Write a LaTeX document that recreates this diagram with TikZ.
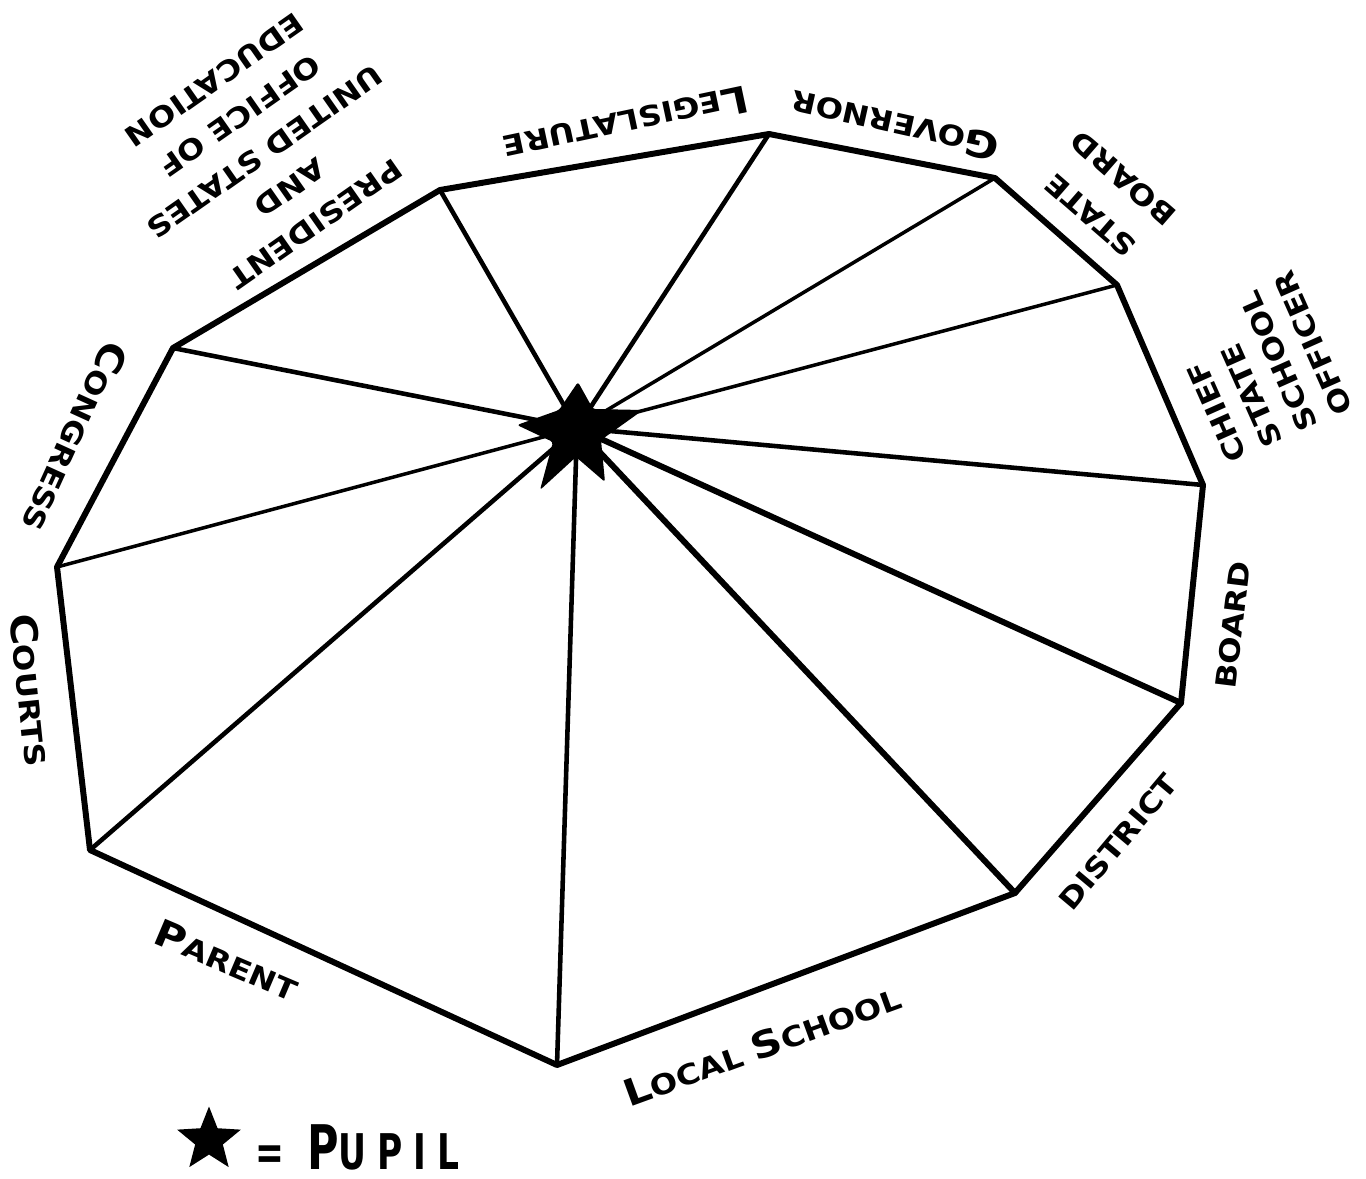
\documentclass[tikz,border=0pt]{standalone}
\usepackage{fontspec}
\setmainfont{DejaVu Sans}[FakeStretch=1.15]
\newfontfamily\legendfont{DejaVu Sans}[FakeStretch=0.7,LetterSpace=22]
\usetikzlibrary{shapes.geometric}
\newcommand\initl[1]{{\fontsize{21}{21}\selectfont #1}}
\begin{document}
\begin{tikzpicture}[x=0.02cm,y=-0.02cm,
  rim/.style={line width=3.4pt,line join=round,line cap=round},
  spoke/.style={line width=2.6pt,line cap=round},
  thinspoke/.style={line width=2pt,line cap=round},
  thickspoke/.style={line width=3.4pt,line cap=round},
  lbl/.style={font=\bfseries\fontsize{16}{16}\selectfont,inner sep=0pt},
]
\fill[white] (0,0) rectangle (1366,1179);
\useasboundingbox (0,0) rectangle (1366,1179);

% centre and polygon corners
\coordinate (c) at (577,428);
\coordinate (v1) at (440,190);
\coordinate (v2) at (769,134);
\coordinate (v3) at (995,178);
\coordinate (v4) at (1117,285);
\coordinate (v5) at (1203,485);
\coordinate (v6) at (1181,703);
\coordinate (v7) at (1015,893);
\coordinate (v8) at (557,1065);
\coordinate (v9) at (90,850);
\coordinate (v10) at (57,567);
\coordinate (v11) at (173,348);

% spokes
\draw[spoke] (c) -- (v1);
\draw[spoke] (c) -- (v2);
\draw[thinspoke] (c) -- (v3);
\draw[thinspoke] (c) -- (v4);
\draw[spoke] (c) -- (v5);
\draw[thickspoke] (c) -- (v6);
\draw[thickspoke] (c) -- (v7);
\draw[spoke] (c) -- (v8);
\draw[spoke] (c) -- (v9);
\draw[thinspoke] (c) -- (v10);
\draw[spoke] (c) -- (v11);

% outer polygon
\draw[rim] (v1) -- (v2) -- (v3) -- (v4) -- (v5) -- (v6) -- (v7) -- (v8) -- (v9) -- (v10) -- (v11) -- cycle;

% pupil star at the centre
\fill[rounded corners=1.5pt] (578,382) -- (593,409) -- (643,410) -- (601,440) -- (605,482) -- (576,457) -- (540,490) -- (553,442) -- (517,425) -- (559,410) -- cycle;

% labels
\node[lbl,rotate=192] (legis) at (626,124) {\initl{L}EGISLATURE};
\node[lbl,rotate=167.5] (gov) at (895,126) {\initl{G}OVERNOR};
\node[lbl,rotate=139,align=center,font=\bfseries\fontsize{16}{28}\selectfont] (sboard) at (1107,197) {STATE\\BOARD};
\node[lbl,rotate=114,align=left,font=\bfseries\fontsize{16}{22}\selectfont] (chief) at (1260,367) {CHIEF\\STATE\\SCHOOL\\OFFICER};
\node[lbl,rotate=83] (board) at (1233,625) {BOARD};
\node[lbl,rotate=50] (district) at (1118,842) {DISTRICT};
\node[lbl,rotate=20] (local) at (762,1045) {\initl{L}OCAL \initl{S}CHOOL};
\node[lbl,rotate=-23] (parent) at (227,960) {\initl{P}ARENT};
\node[lbl,rotate=-84] (courts) at (31,690) {\initl{C}OURTS};
\node[lbl,rotate=-114.5] (congress) at (75,437) {\initl{C}ONGRESS};
\node[lbl,rotate=215,align=center,font=\bfseries\fontsize{16}{25}\selectfont] (pres) at (265,152) {PRESIDENT\\AND\\UNITED STATES\\OFFICE OF\\EDUCATION};

% legend
\node[star,star points=5,star point ratio=2.3,fill,minimum size=1.34cm,inner sep=0pt] (lstar) at (209,1140) {};
\node[inner sep=0pt,anchor=west,font=\legendfont\bfseries\fontsize{28}{28}\selectfont] (pupil) at (255,1147) {= {\fontsize{35}{35}\selectfont P}UPIL};
\end{tikzpicture}
\end{document}
